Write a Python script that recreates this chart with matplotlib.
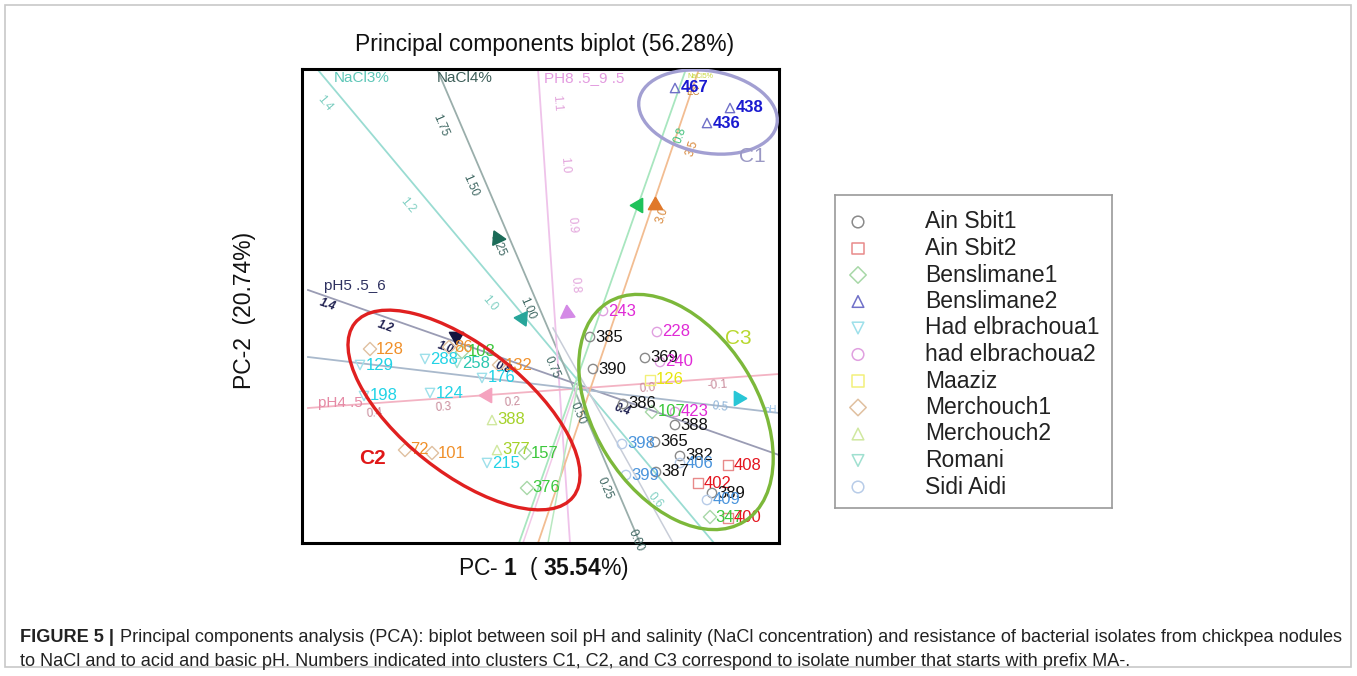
import numpy as np
import matplotlib
matplotlib.use('Agg')
import matplotlib.pyplot as plt
from matplotlib.patches import Ellipse, Rectangle

plt.rcParams['font.family'] = ['Liberation Sans', 'DejaVu Sans']
plt.rcParams['mathtext.fontset'] = 'custom'
plt.rcParams['mathtext.rm'] = 'Liberation Sans'
plt.rcParams['mathtext.bf'] = 'Liberation Sans:bold'

# ---- groups (sites)
groups = ['Ain Sbit1', 'Ain Sbit2', 'Benslimane1', 'Benslimane2', 'Had elbrachoua1',
          'had elbrachoua2', 'Maaziz', 'Merchouch1', 'Merchouch2', 'Romani', 'Sidi Aidi']
group_markers = ['o', 's', 'D', '^', 'v', 'o', 's', 'D', '^', 'v', 'o']
marker_colors = ['#8a8a8a', '#e88a8a', '#a8d8a8', '#7070c8', '#9ee0ea', '#e0a0e0',
                 '#f2f07a', '#e0c0a0', '#d0e8a0', '#a0e0d0', '#b8cce8']
text_colors = ['#111111', '#e4141e', '#3cc83c', '#1a1ad0', '#22d3e6', '#e02ad6',
               '#e6e60e', '#f0902a', '#a5d22a', '#2cc7b0', '#4a94dc']

# ---- isolates: label, group index, PC1, PC2
iso_label = ['467', '438', '436',
             '128', '129', '198', '288', '86', '103', '258', '132', '176', '124',
             '388', '72', '101', '377', '215', '157', '376',
             '243', '385', '228', '369', '240', '390', '126', '386', '107', '423',
             '388', '365', '398', '382', '406', '399', '387', '408', '402', '389',
             '409', '347', '400']
iso_group = [3, 3, 3,
             7, 4, 4, 4, 7, 2, 9, 7, 4, 4,
             8, 7, 7, 8, 4, 2, 2,
             5, 0, 5, 0, 5, 0, 6, 0, 2, 5,
             0, 0, 10, 0, 10, 10, 0, 1, 1, 0,
             10, 2, 1]
iso_pc1 = [0.97, 1.52, 1.29,
           -2.08, -2.18, -2.14, -1.53, -1.29, -1.16, -1.21, -0.79, -0.96, -1.48,
           -0.86, -1.73, -1.46, -0.81, -0.91, -0.53, -0.51,
           0.25, 0.12, 0.79, 0.67, 0.82, 0.15, 0.72, 0.45, 0.74, 0.97,
           0.97, 0.77, 0.44, 1.02, 1.02, 0.48, 0.78, 1.50, 1.20, 1.34,
           1.29, 1.32, 1.50]
iso_pc2 = [2.95, 2.75, 2.60,
           0.34, 0.18, -0.13, 0.24, 0.36, 0.31, 0.20, 0.18, 0.05, -0.10,
           -0.37, -0.67, -0.70, -0.67, -0.80, -0.70, -1.05,
           0.72, 0.46, 0.51, 0.25, 0.21, 0.14, 0.03, -0.21, -0.29, -0.29,
           -0.42, -0.59, -0.61, -0.73, -0.80, -0.92, -0.89, -0.82, -1.00, -1.10,
           -1.17, -1.34, -1.35]

# ---- biplot variable axes: name, start, end, colours, name position
var_names = ['NaCl3%', 'NaCl4%', 'PH8 .5_9 .5', 'pH5 .5_6', 'pH4 .5', 'pH', 'NaCl5%', 'EC']
var_x0 = [-2.60, -1.41, -0.40, -2.70, -2.70, -2.70, -0.59, -0.40]
var_y0 = [3.13, 3.14, 3.14, 0.93, -0.25, 0.26, -1.60, -1.60]
var_x1 = [1.36, 0.62, -0.08, 2.01, 2.01, 2.01, 1.08, 1.21]
var_y1 = [-1.60, -1.60, -1.60, -0.72, 0.09, -0.30, 3.14, 3.14]
var_line_colors = ['#9adcd2', '#9aaeab', '#efc3ea', '#9a9cb4', '#f3b3c3', '#a9b9cc', '#a8e6bf', '#f2bd92']
var_name_colors = ['#5fc7b8', '#3d5e59', '#e39be0', '#2e3160', '#e58aa5', '#9cc3e6', '#c6d63a', '#c8873a']
var_name_x = [-2.16, -1.13, 0.06, -2.23, -2.38, 1.93, 1.22, 1.15]
var_name_y = [3.05, 3.05, 3.05, 0.97, -0.20, -0.27, 3.06, 2.91]
var_name_size = [11, 11, 11, 11, 11, 7, 5, 7]

# calibration labels on the variable axes
tick_var = [0, 0, 0, 0,
            1, 1, 1, 1, 1, 1, 1, 1,
            2, 2, 2, 2,
            3, 3, 3, 3, 3,
            4, 4, 4, 4, 4,
            5, 6, 7, 7]
tick_text = ['1.4', '1.2', '1.0', '0.6',
             '1.75', '1.50', '1.25', '1.00', '0.75', '0.50', '0.25', '0.00',
             '1.1', '1.0', '0.9', '0.8',
             '1.4', '1.2', '1.0', '0.8', '0.4',
             '0.4', '0.3', '0.2', '0.0', '-0.1',
             '0.5', '0.8', '3.5', '3.0']
tick_x = [-2.53, -1.70, -0.88, 0.77,
          -1.38, -1.08, -0.81, -0.51, -0.26, 0.00, 0.27, 0.58,
          -0.21, -0.13, -0.06, -0.03,
          -2.51, -1.93, -1.33, -0.75, 0.44,
          -2.03, -1.35, -0.66, 0.70, 1.39,
          1.42, 1.02, 1.14, 0.84]
tick_y = [2.80, 1.78, 0.80, -1.17,
          2.58, 1.98, 1.38, 0.75, 0.16, -0.30, -1.05, -1.57,
          2.80, 2.18, 1.58, 0.98,
          0.78, 0.56, 0.35, 0.15, -0.27,
          -0.30, -0.24, -0.19, -0.05, -0.02,
          -0.24, 2.48, 2.35, 1.68]
tick_colors = ['#7fcfc2', '#3c6560', '#e3a5dc', '#1f2050', '#c98c9c', '#8fb4d8', '#3fc07a', '#d8883a']

# arrow heads on the variable axes
arrow_x = [-0.81, -0.56, -0.11, -1.22, -0.91, 1.60, 0.60, 0.77]
arrow_y = [1.45, 0.65, 0.70, 0.47, -0.12, -0.15, 1.78, 1.78]
arrow_dir = [115, -65, 95, 30, 180, 0, 180, 90]
arrow_colors = ['#1b6b58', '#27a59a', '#d48ae6', '#15153f', '#f5a3bf', '#28c6d6', '#1fc25a', '#e0782a']

# clusters
clu_names = ['C1', 'C2', 'C3']
clu_x = [1.30, -1.14, 0.98]
clu_y = [2.71, -0.27, -0.29]
clu_w = [1.40, 2.79, 2.58]
clu_h = [0.82, 1.26, 1.63]
clu_ang = [-10, -38.5, -58]
clu_colors = ['#a29fd2', '#e02020', '#7cb83a']
clu_label_x = [1.74, -2.05, 1.60]
clu_label_y = [2.26, -0.75, 0.45]
clu_label_colors = ['#9a98c4', '#e01818', '#b8d82e']

W, H = 1357, 676
fig = plt.figure(figsize=(W / 100, H / 100), dpi=100)
fig.patches.append(Rectangle((5 / W, 1 - 667 / H), 1346 / W, 662 / H, transform=fig.transFigure,
                             fill=False, edgecolor='#c8c8c8', lw=1.2))

ax = fig.add_axes([302 / W, 1 - 543 / H, 477 / W, 474 / H])
ax.set_xlim(-2.76, 2.01)
ax.set_ylim(-1.60, 3.14)
ax.set_xticks([])
ax.set_yticks([])
for s in ax.spines.values():
    s.set_linewidth(2.2)
    s.set_color('black')

# variable axes
for i in range(len(var_names)):
    ax.plot([var_x0[i], var_x1[i]], [var_y0[i], var_y1[i]], color=var_line_colors[i], lw=1.3, zorder=1)
    ax.text(var_name_x[i], var_name_y[i], var_names[i], color=var_name_colors[i],
            fontsize=var_name_size[i], ha='center', va='center', zorder=3)
# extra faint axes converging at the centre
ax.plot([0.0, -0.55], [0.0, -1.60], color='#f2c8e8', lw=1.1, zorder=1)
ax.plot([-0.25, 0.95], [0.55, -1.60], color='#c8cdd8', lw=1.1, zorder=1)
ax.plot([0.0, -0.30], [0.0, -1.60], color='#b8e8c0', lw=1.1, zorder=1)

for k in range(len(tick_text)):
    v = tick_var[k]
    ang = np.degrees(np.arctan2(var_y1[v] - var_y0[v], var_x1[v] - var_x0[v]))
    if ang > 90:
        ang -= 180
    if ang <= -90:
        ang += 180
    style = 'italic' if v == 3 else 'normal'
    weight = 'bold' if v == 3 else 'normal'
    ax.text(tick_x[k], tick_y[k], tick_text[k], color=tick_colors[v], fontsize=8.5,
            rotation=ang, ha='center', va='center', style=style, weight=weight, zorder=3)

for k in range(len(arrow_x)):
    ax.plot(arrow_x[k], arrow_y[k], marker=(3, 0, arrow_dir[k] - 90), ms=12,
            color=arrow_colors[k], mec=arrow_colors[k], zorder=4)

# isolates
for k in range(len(iso_label)):
    g = iso_group[k]
    ax.scatter(iso_pc1[k], iso_pc2[k], marker=group_markers[g], s=45, facecolors='none',
               edgecolors=marker_colors[g], lw=1.0, zorder=5)
    ax.annotate(iso_label[k], (iso_pc1[k], iso_pc2[k]), xytext=(4, 0), textcoords='offset points',
                ha='left', va='center', fontsize=12, color=text_colors[g], zorder=6,
                weight='bold' if g == 3 else 'normal')

# clusters
for k in range(len(clu_names)):
    ax.add_patch(Ellipse((clu_x[k], clu_y[k]), clu_w[k], clu_h[k], angle=clu_ang[k],
                         fill=False, edgecolor=clu_colors[k], lw=2.4, zorder=7))
    ax.text(clu_label_x[k], clu_label_y[k], clu_names[k], color=clu_label_colors[k],
            fontsize=15, ha='center', va='center', weight='bold' if k == 1 else 'normal', zorder=7)

fig.text(545 / W, 1 - 44 / H, 'Principal components biplot (56.28%)', fontsize=16.5,
         ha='center', va='center', color='#111111')
fig.text(245 / W, 1 - 310 / H, 'PC-2  (20.74%)', fontsize=16.5, rotation=90,
         ha='center', va='center', color='#111111')
fig.text(543 / W, 1 - 568 / H, r'PC- $\mathbf{1}$  ( $\mathbf{35.54}$%)', fontsize=16.5,
         ha='center', va='center', color='#111111')

# legend box
axl = fig.add_axes([835 / W, 1 - 508 / H, 277 / W, 313 / H])
axl.set_xlim(835, 1112)
axl.set_ylim(508, 195)
axl.set_xticks([])
axl.set_yticks([])
for s in axl.spines.values():
    s.set_color('#9a9a9a')
    s.set_linewidth(1.2)
for g in range(len(groups)):
    yy = 222 + g * 26.5
    axl.scatter(858, yy, marker=group_markers[g], s=70, facecolors='none',
                edgecolors=marker_colors[g], lw=1.1)
    axl.text(925, yy, groups[g], fontsize=16.5, ha='left', va='center', color='#222222')

# caption
cap_font = ['Liberation Sans Narrow', 'Liberation Sans']
t1 = fig.text(20 / W, 1 - 637 / H, 'FIGURE 5 |', fontsize=13.1, weight='bold',
              ha='left', va='center', color='#222222', family=cap_font)
ax.annotate(' Principal components analysis (PCA): biplot between soil pH and salinity (NaCl concentration) '
            'and resistance of bacterial isolates from chickpea nodules',
            xy=(1, 0.5), xycoords=t1, xytext=(1, 0), textcoords='offset points',
            ha='left', va='center', fontsize=13.1, color='#222222', annotation_clip=False,
            family=cap_font)
fig.text(20 / W, 1 - 661 / H, 'to NaCl and to acid and basic pH. Numbers indicated into clusters C1, C2, '
         'and C3 correspond to isolate number that starts with prefix MA-.', fontsize=13.1,
         ha='left', va='center', color='#222222', family=cap_font)

fig.savefig('out.png', dpi=100)
